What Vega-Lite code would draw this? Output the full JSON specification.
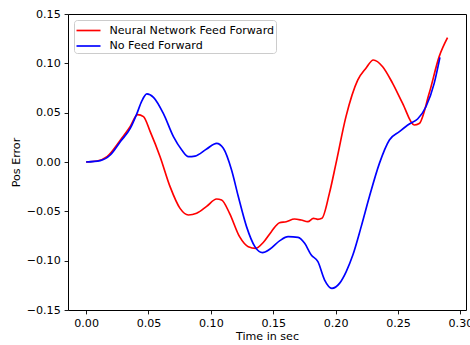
{
  "$schema": "https://vega.github.io/schema/vega-lite/v6.json",
  "autosize": {"type": "none"},
  "padding": {"left": 68, "top": 14, "right": 4, "bottom": 35},
  "width": 398,
  "height": 296,
  "background": "white",
  "config": {
    "font": "DejaVu Sans",
    "view": {"stroke": "black", "strokeWidth": 1},
    "axis": {
      "domain": false,
      "grid": false,
      "ticks": true,
      "tickColor": "black",
      "tickSize": 3.9,
      "tickWidth": 0.9,
      "labelColor": "black",
      "labelFontSize": 11.1,
      "labelFont": "DejaVu Sans",
      "titleFont": "DejaVu Sans",
      "titleFontSize": 11.1,
      "titleFontWeight": "normal",
      "titleColor": "black",
      "labelPadding": 3.9
    }
  },
  "data": {
    "values": [
      {"t": 0.0, "e": 0.0, "s": "Neural Network Feed Forward"},
      {"t": 0.0088, "e": 0.001, "s": "Neural Network Feed Forward"},
      {"t": 0.0168, "e": 0.0054, "s": "Neural Network Feed Forward"},
      {"t": 0.0274, "e": 0.022, "s": "Neural Network Feed Forward"},
      {"t": 0.0354, "e": 0.036, "s": "Neural Network Feed Forward"},
      {"t": 0.0413, "e": 0.048, "s": "Neural Network Feed Forward"},
      {"t": 0.046, "e": 0.046, "s": "Neural Network Feed Forward"},
      {"t": 0.0513, "e": 0.031, "s": "Neural Network Feed Forward"},
      {"t": 0.0593, "e": 0.0054, "s": "Neural Network Feed Forward"},
      {"t": 0.0673, "e": -0.025, "s": "Neural Network Feed Forward"},
      {"t": 0.0753, "e": -0.047, "s": "Neural Network Feed Forward"},
      {"t": 0.082, "e": -0.0537, "s": "Neural Network Feed Forward"},
      {"t": 0.0886, "e": -0.052, "s": "Neural Network Feed Forward"},
      {"t": 0.0966, "e": -0.045, "s": "Neural Network Feed Forward"},
      {"t": 0.1046, "e": -0.0375, "s": "Neural Network Feed Forward"},
      {"t": 0.1086, "e": -0.0385, "s": "Neural Network Feed Forward"},
      {"t": 0.115, "e": -0.052, "s": "Neural Network Feed Forward"},
      {"t": 0.123, "e": -0.0757, "s": "Neural Network Feed Forward"},
      {"t": 0.13, "e": -0.0858, "s": "Neural Network Feed Forward"},
      {"t": 0.136, "e": -0.0875, "s": "Neural Network Feed Forward"},
      {"t": 0.1418, "e": -0.0818, "s": "Neural Network Feed Forward"},
      {"t": 0.1485, "e": -0.0706, "s": "Neural Network Feed Forward"},
      {"t": 0.155, "e": -0.0615, "s": "Neural Network Feed Forward"},
      {"t": 0.1604, "e": -0.0605, "s": "Neural Network Feed Forward"},
      {"t": 0.167, "e": -0.0578, "s": "Neural Network Feed Forward"},
      {"t": 0.1724, "e": -0.0588, "s": "Neural Network Feed Forward"},
      {"t": 0.1777, "e": -0.0605, "s": "Neural Network Feed Forward"},
      {"t": 0.1822, "e": -0.0571, "s": "Neural Network Feed Forward"},
      {"t": 0.1857, "e": -0.0581, "s": "Neural Network Feed Forward"},
      {"t": 0.189, "e": -0.0571, "s": "Neural Network Feed Forward"},
      {"t": 0.195, "e": -0.0318, "s": "Neural Network Feed Forward"},
      {"t": 0.2003, "e": -0.0014, "s": "Neural Network Feed Forward"},
      {"t": 0.2083, "e": 0.046, "s": "Neural Network Feed Forward"},
      {"t": 0.2177, "e": 0.083, "s": "Neural Network Feed Forward"},
      {"t": 0.2243, "e": 0.095, "s": "Neural Network Feed Forward"},
      {"t": 0.2302, "e": 0.1034, "s": "Neural Network Feed Forward"},
      {"t": 0.2377, "e": 0.0966, "s": "Neural Network Feed Forward"},
      {"t": 0.2457, "e": 0.0797, "s": "Neural Network Feed Forward"},
      {"t": 0.2537, "e": 0.0595, "s": "Neural Network Feed Forward"},
      {"t": 0.263, "e": 0.0375, "s": "Neural Network Feed Forward"},
      {"t": 0.267, "e": 0.039, "s": "Neural Network Feed Forward"},
      {"t": 0.275, "e": 0.0696, "s": "Neural Network Feed Forward"},
      {"t": 0.283, "e": 0.1068, "s": "Neural Network Feed Forward"},
      {"t": 0.2897, "e": 0.126, "s": "Neural Network Feed Forward"},
      {"t": 0.0, "e": 0.0, "s": "No Feed Forward"},
      {"t": 0.0114, "e": 0.0014, "s": "No Feed Forward"},
      {"t": 0.0194, "e": 0.0071, "s": "No Feed Forward"},
      {"t": 0.0274, "e": 0.0206, "s": "No Feed Forward"},
      {"t": 0.0354, "e": 0.034, "s": "No Feed Forward"},
      {"t": 0.0407, "e": 0.049, "s": "No Feed Forward"},
      {"t": 0.0447, "e": 0.062, "s": "No Feed Forward"},
      {"t": 0.0487, "e": 0.069, "s": "No Feed Forward"},
      {"t": 0.054, "e": 0.0655, "s": "No Feed Forward"},
      {"t": 0.062, "e": 0.049, "s": "No Feed Forward"},
      {"t": 0.07, "e": 0.0257, "s": "No Feed Forward"},
      {"t": 0.0767, "e": 0.0122, "s": "No Feed Forward"},
      {"t": 0.082, "e": 0.0054, "s": "No Feed Forward"},
      {"t": 0.0873, "e": 0.006, "s": "No Feed Forward"},
      {"t": 0.0966, "e": 0.0132, "s": "No Feed Forward"},
      {"t": 0.1046, "e": 0.0189, "s": "No Feed Forward"},
      {"t": 0.11, "e": 0.0139, "s": "No Feed Forward"},
      {"t": 0.1166, "e": -0.0081, "s": "No Feed Forward"},
      {"t": 0.122, "e": -0.035, "s": "No Feed Forward"},
      {"t": 0.1286, "e": -0.0655, "s": "No Feed Forward"},
      {"t": 0.1353, "e": -0.0858, "s": "No Feed Forward"},
      {"t": 0.1414, "e": -0.0919, "s": "No Feed Forward"},
      {"t": 0.1472, "e": -0.0885, "s": "No Feed Forward"},
      {"t": 0.1553, "e": -0.0797, "s": "No Feed Forward"},
      {"t": 0.1619, "e": -0.0757, "s": "No Feed Forward"},
      {"t": 0.1699, "e": -0.0764, "s": "No Feed Forward"},
      {"t": 0.1752, "e": -0.0824, "s": "No Feed Forward"},
      {"t": 0.1805, "e": -0.0943, "s": "No Feed Forward"},
      {"t": 0.1858, "e": -0.101, "s": "No Feed Forward"},
      {"t": 0.1912, "e": -0.1196, "s": "No Feed Forward"},
      {"t": 0.197, "e": -0.128, "s": "No Feed Forward"},
      {"t": 0.2031, "e": -0.123, "s": "No Feed Forward"},
      {"t": 0.2085, "e": -0.111, "s": "No Feed Forward"},
      {"t": 0.2138, "e": -0.0943, "s": "No Feed Forward"},
      {"t": 0.2205, "e": -0.0655, "s": "No Feed Forward"},
      {"t": 0.2271, "e": -0.035, "s": "No Feed Forward"},
      {"t": 0.2351, "e": -0.0014, "s": "No Feed Forward"},
      {"t": 0.2431, "e": 0.0223, "s": "No Feed Forward"},
      {"t": 0.2511, "e": 0.0307, "s": "No Feed Forward"},
      {"t": 0.2591, "e": 0.0385, "s": "No Feed Forward"},
      {"t": 0.2657, "e": 0.0436, "s": "No Feed Forward"},
      {"t": 0.2724, "e": 0.056, "s": "No Feed Forward"},
      {"t": 0.279, "e": 0.0797, "s": "No Feed Forward"},
      {"t": 0.2836, "e": 0.106, "s": "No Feed Forward"}
    ]
  },
  "mark": {"type": "line", "strokeWidth": 1.67, "interpolate": "monotone", "clip": true},
  "encoding": {
    "x": {
      "field": "t",
      "type": "quantitative",
      "title": "Time in sec",
      "scale": {"domain": [-0.0145, 0.3045], "nice": false, "zero": false},
      "axis": {"values": [0, 0.05, 0.1, 0.15, 0.2, 0.25, 0.3], "format": ".2f", "titlePadding": 2}
    },
    "y": {
      "field": "e",
      "type": "quantitative",
      "title": "Pos Error",
      "scale": {"domain": [-0.15, 0.15], "nice": false, "zero": false},
      "axis": {"values": [-0.15, -0.1, -0.05, 0, 0.05, 0.1, 0.15], "format": ".2f", "titlePadding": 5}
    },
    "color": {
      "field": "s",
      "type": "nominal",
      "scale": {"domain": ["Neural Network Feed Forward", "No Feed Forward"], "range": ["#ff0000", "#0000ff"]},
      "legend": {
        "title": null,
        "orient": "top-left",
        "offset": 5.5,
        "symbolType": "M-1.5,0H1.5",
        "symbolSize": 256,
        "symbolOffset": 4,
        "symbolStrokeWidth": 1.67,
        "labelFontSize": 11.1,
        "labelColor": "black",
        "labelOffset": 12,
        "labelLimit": 400,
        "rowPadding": 0.5,
        "padding": 1.5,
        "strokeColor": "#cccccc",
        "fillColor": "rgba(255,255,255,0.8)",
        "cornerRadius": 3
      }
    }
  }
}
